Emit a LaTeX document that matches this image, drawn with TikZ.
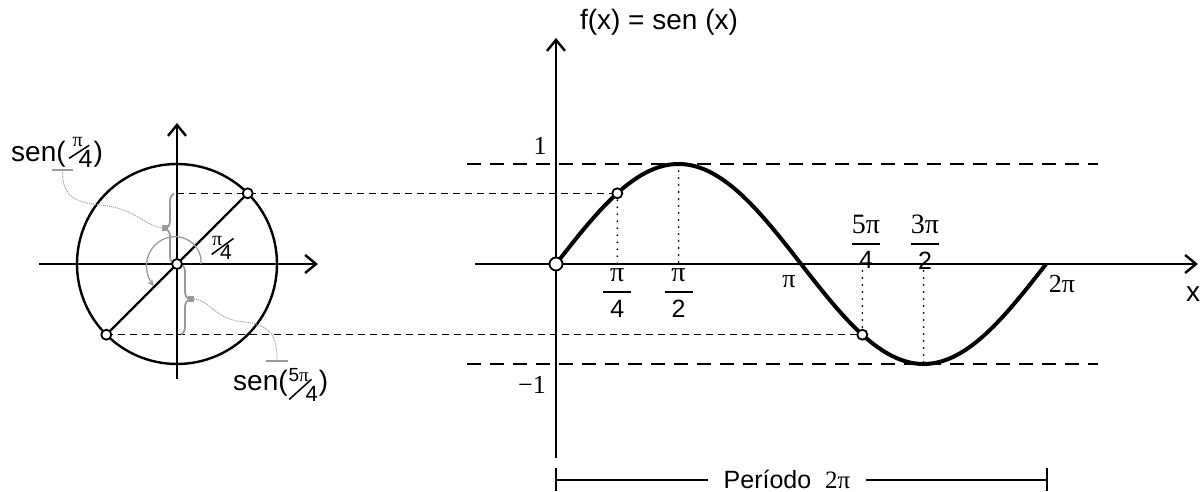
\documentclass[tikz,border=0pt]{standalone}
\usepackage{fontspec}
\usepackage{amsmath}
\setmainfont{Liberation Sans}
\newfontfamily\serif{Liberation Serif}
\usetikzlibrary{arrows.meta,decorations.pathreplacing}
\newcommand{\fsz}[1]{\fontsize{#1}{#1}\selectfont}
\newcommand{\fr}[2]{$\genfrac{}{}{2.2pt}{0}{\makebox[28pt]{\fsz{28}\serif #1}}{\makebox[28pt]{#2}}$}
% slash: \slsh{raise}{angle}{length}
\newcommand{\slsh}[3]{\makebox[0pt][l]{\raisebox{#1}{\rotatebox{#2}{\rule{#3}{1.5pt}}}}}
\begin{document}
\begin{tikzpicture}[x=1pt,y=1pt,
  axis/.style={line width=2.4pt,-{Straight Barb[length=11pt,width=18pt,line width=2.4pt]}},
  thickln/.style={line width=2.4pt},
  bigdash/.style={line width=2pt,dash pattern=on 14pt off 9pt},
  thindash/.style={line width=1.3pt,dash pattern=on 7pt off 5pt},
  dots/.style={line width=2pt,line cap=round,dash pattern=on 0pt off 7pt},
  pt/.style={circle,draw,fill=white,line width=1.8pt,inner sep=0pt,minimum size=10pt},
  bigpt/.style={pt,minimum size=13pt},
  gbrace/.style={draw=gray!80,line width=1.8pt,decorate,decoration={brace,amplitude=8pt}},
  sq/.style={fill=gray!80,inner sep=0pt,minimum size=6pt},
  gbar/.style={draw=gray!80,line width=2.5pt},
  gdot/.style={draw=gray!80,line width=1pt,densely dotted},
  sans/.style={font=\fsz{28}},
  lab/.style={font=\fsz{25}},
  seriflab/.style={font=\fsz{26}\serif},
]
\useasboundingbox (0,0) rectangle (1204,492);

% ---------- circle part ----------
\coordinate (C) at (177,228);
\coordinate (P1c) at (247.7,298.7);
\coordinate (P2c) at (106.3,157.3);
\coordinate (A1) at (177,298.7);
\draw[thickln] (C) circle[radius=100];
\draw[axis] (39,228) -- (318,228);
\draw[axis] (177,113) -- (177,369);

% ---------- graph part ----------
\coordinate (O) at (556,228);
\coordinate (G1c) at (617.3,298.7);
\coordinate (G2c) at (862.3,157.3);
\coordinate (Pk) at (678.5,328);
\coordinate (Tr) at (923.6,128);
\coordinate (X14) at (617.3,228);
\coordinate (X12) at (678.5,228);
\coordinate (X54) at (862.3,228);
\coordinate (X32) at (923.6,228);

\draw[bigdash] (467,328) -- (1098,328);
\draw[bigdash] (467,128) -- (1098,128);
\draw[axis] (475,228) -- (1198,228);
\draw[axis] (556,34) -- (556,454);

\draw[thindash] (A1) -- (G1c);
\draw[thindash] (P2c) -- (G2c);
\draw[thickln] (P2c) -- (P1c);

\draw[dots] (G1c) -- (X14);
\draw[dots] (Pk) -- (X12);
\draw[dots] (X54) -- (G2c);
\draw[dots] (X32) -- (Tr);

\draw[line width=4pt] plot[domain=0:6.2832,samples=150] ({556+78*\x},{228+100*sin(\x r)});

% braces and annotations
\draw[gbrace] (174,228) -- (174,298.7);
\draw[gbrace] (181,228) -- (181,157.3);
\node[sq] (s1) at (164.5,264) {};
\node[sq] (s2) at (191,193) {};
\draw[gbar] (52,322) -- (73,322);
\coordinate (b1) at (62.5,322);
\draw[gbar] (266,131) -- (288,131);
\coordinate (b2) at (277,131);
\draw[gdot] (b1) .. controls (62,295) and (75,290) .. (100,287) .. controls (135,284) and (145,266) .. (s1);
\draw[gdot] (s2) .. controls (210,192) and (215,172) .. (245,170) .. controls (275,167) and (277,150) .. (b2);

\draw[draw=gray!80,line width=1.3pt,-{Stealth[length=7pt,width=6pt]}]
  plot[domain=0:224,samples=60] ({177+(24+8*\x/224)*cos(\x)},{228+(24+8*\x/224)*sin(\x)});

% points
\node[pt] (P1) at (P1c) {};
\node[pt] (P2) at (P2c) {};
\node[pt] (C0) at (C) {};
\node[bigpt] (O0) at (O) {};
\node[pt] (G1) at (G1c) {};
\node[pt] (G2) at (G2c) {};

% labels circle
\node[anchor=base west,sans,inner sep=0pt] (L1) at (11,330)
  {sen(\kern3pt\slsh{3pt}{33}{24pt}\kern4pt\makebox[0pt][l]{\raisebox{15pt}{\fsz{20}\serif π}}\kern6pt\raisebox{-6pt}{\fsz{25}4}\kern1pt)};
\node[anchor=base west,sans,inner sep=0pt] (L2) at (233,101)
  {sen(\kern1pt\slsh{-9pt}{42}{30pt}\makebox[0pt][l]{\raisebox{9pt}{\fsz{19}5\serif π}}\kern17pt\raisebox{-11pt}{\fsz{22}4}\kern1pt)};
\node[anchor=base west,inner sep=0pt] (ang) at (211,232)
  {\slsh{5pt}{36}{27pt}\kern1pt\makebox[0pt][l]{\raisebox{14pt}{\fsz{20}\serif π}}\kern8pt{\fsz{21}4}};

% labels graph
\node[sans] (title) at (659,470) {f(x) = sen (x)};
\node[seriflab] (one) at (540,346) {1};
\node[seriflab] (mone) at (532,107) {−1};
\node[seriflab] (lpi) at (789,210) {π};
\node[seriflab] (l2pi) at (1062,208) {2π};
\node[sans] (lx) at (1193,198) {x};
\node[lab] (f14) at (617.3,199) {\fr{π}{4}};
\node[lab] (f12) at (678.5,199) {\fr{π}{2}};
\node[lab] (f54) at (866,250) {\fr{5π}{4}};
\node[lab] (f32) at (925,250) {\fr{3π}{2}};

% period
\coordinate (lt) at (556,12);
\coordinate (rt) at (1047,12);
\draw[line width=1.8pt] (556,1) -- (556,24);
\draw[line width=1.8pt] (1047,1) -- (1047,24);
\node[lab,inner xsep=16pt,inner ysep=0pt] (per) at (787,13) {Período\ \ {\serif 2π}};
\draw[line width=1.5pt] (lt) -- (per.west |- lt);
\draw[line width=1.5pt] (per.east |- rt) -- (rt);
\end{tikzpicture}
\end{document}
